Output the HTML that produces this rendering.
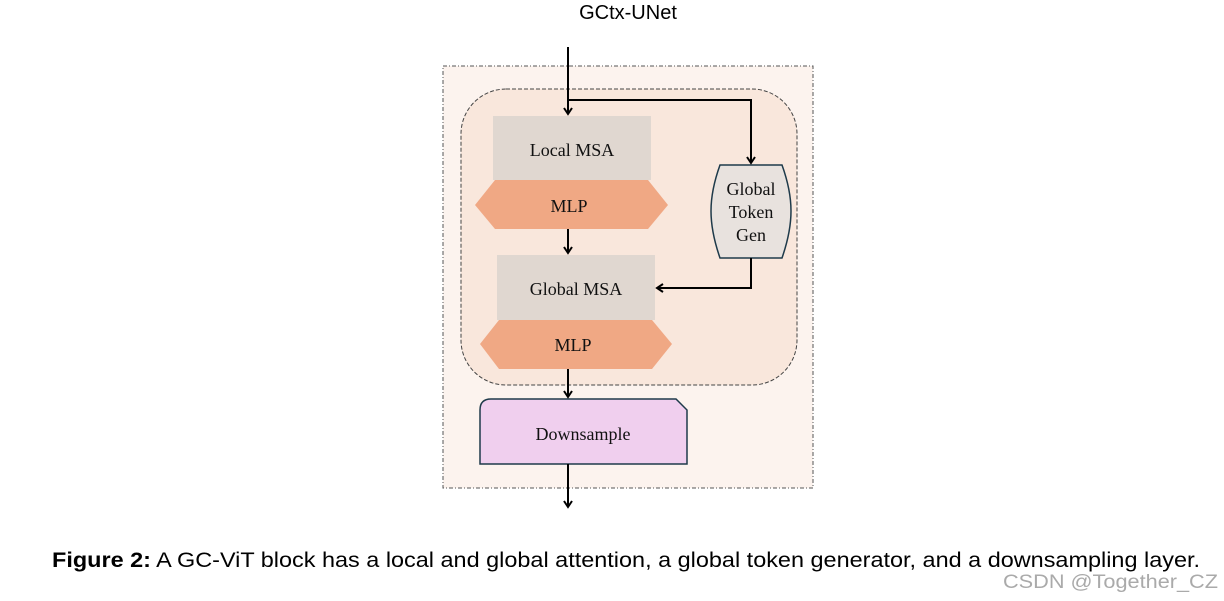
<!DOCTYPE html>
<html><head><meta charset="utf-8"><style>
html,body{margin:0;padding:0;background:#fff;width:1224px;height:601px;overflow:hidden}
</style></head><body>
<svg width="1224" height="601" viewBox="0 0 1224 601" xmlns="http://www.w3.org/2000/svg">
<defs>
<marker id="ah" markerWidth="10" markerHeight="10" refX="7" refY="5" orient="auto" markerUnits="userSpaceOnUse">
<path d="M1,1 L7,5 L1,9" fill="none" stroke="#000" stroke-width="2"/>
</marker>
</defs>
<text x="628" y="19" font-family="Liberation Sans, sans-serif" font-size="20" text-anchor="middle" fill="#000">GCtx-UNet</text>
<rect x="443" y="66" width="370" height="422" fill="#fcf3ee" stroke="#555" stroke-width="1" stroke-dasharray="4,2,1,2"/>
<rect x="461" y="89" width="336" height="296" rx="45" fill="#f9e7dc" stroke="#444" stroke-width="1" stroke-dasharray="4,2"/>
<rect x="493" y="116" width="158" height="64" fill="#e0d7d0"/>
<text x="572" y="156" font-family="Liberation Serif, serif" font-size="18" text-anchor="middle" fill="#111">Local MSA</text>
<polygon points="495,180 648,180 668,205 648,229 495,229 475,205" fill="#f0a884"/>
<text x="569" y="212" font-family="Liberation Serif, serif" font-size="18" text-anchor="middle" fill="#111">MLP</text>
<rect x="497" y="255" width="158" height="65" fill="#e0d7d0"/>
<text x="576" y="295" font-family="Liberation Serif, serif" font-size="18" text-anchor="middle" fill="#111">Global MSA</text>
<polygon points="499,320 652,320 672,344 652,369 499,369 480,344" fill="#f0a884"/>
<text x="573" y="351" font-family="Liberation Serif, serif" font-size="18" text-anchor="middle" fill="#111">MLP</text>
<path d="M720,165 L782,165 Q791,190 791,211 Q791,232 782,258 L720,258 Q711,232 711,211 Q711,190 720,165 Z" fill="#e8e2de" stroke="#1e3a4a" stroke-width="1.5"/>
<text x="751" y="195" font-family="Liberation Serif, serif" font-size="18" text-anchor="middle" fill="#111">Global</text>
<text x="751" y="218" font-family="Liberation Serif, serif" font-size="18" text-anchor="middle" fill="#111">Token</text>
<text x="751" y="241" font-family="Liberation Serif, serif" font-size="18" text-anchor="middle" fill="#111">Gen</text>
<path d="M491,399 L676,399 L687,410 L687,464 L480,464 L480,410 Q480,399 491,399 Z" fill="#f0cfee" stroke="#1e3a4a" stroke-width="1.5"/>
<text x="583" y="440" font-family="Liberation Serif, serif" font-size="18" text-anchor="middle" fill="#111">Downsample</text>
<g fill="none" stroke="#000" stroke-width="2">
<path d="M568,47 L568,114" marker-end="url(#ah)"/>
<path d="M568,100 L751,100 L751,163" marker-end="url(#ah)"/>
<path d="M568,229 L568,253" marker-end="url(#ah)"/>
<path d="M751,258 L751,288 L657,288" marker-end="url(#ah)"/>
<path d="M568,369 L568,397" marker-end="url(#ah)"/>
<path d="M568,464 L568,507" marker-end="url(#ah)"/>
</g>
<text x="52" y="567" font-family="Liberation Sans, sans-serif" font-size="21" fill="#000" textLength="1148" lengthAdjust="spacingAndGlyphs"><tspan font-weight="bold">Figure 2:</tspan> A GC-ViT block has a local and global attention, a global token generator, and a downsampling layer.</text>
<text x="1003" y="588" font-family="Liberation Sans, sans-serif" font-size="19" fill="#aaa" textLength="215" lengthAdjust="spacingAndGlyphs">CSDN @Together_CZ</text>
</svg>
</body></html>
